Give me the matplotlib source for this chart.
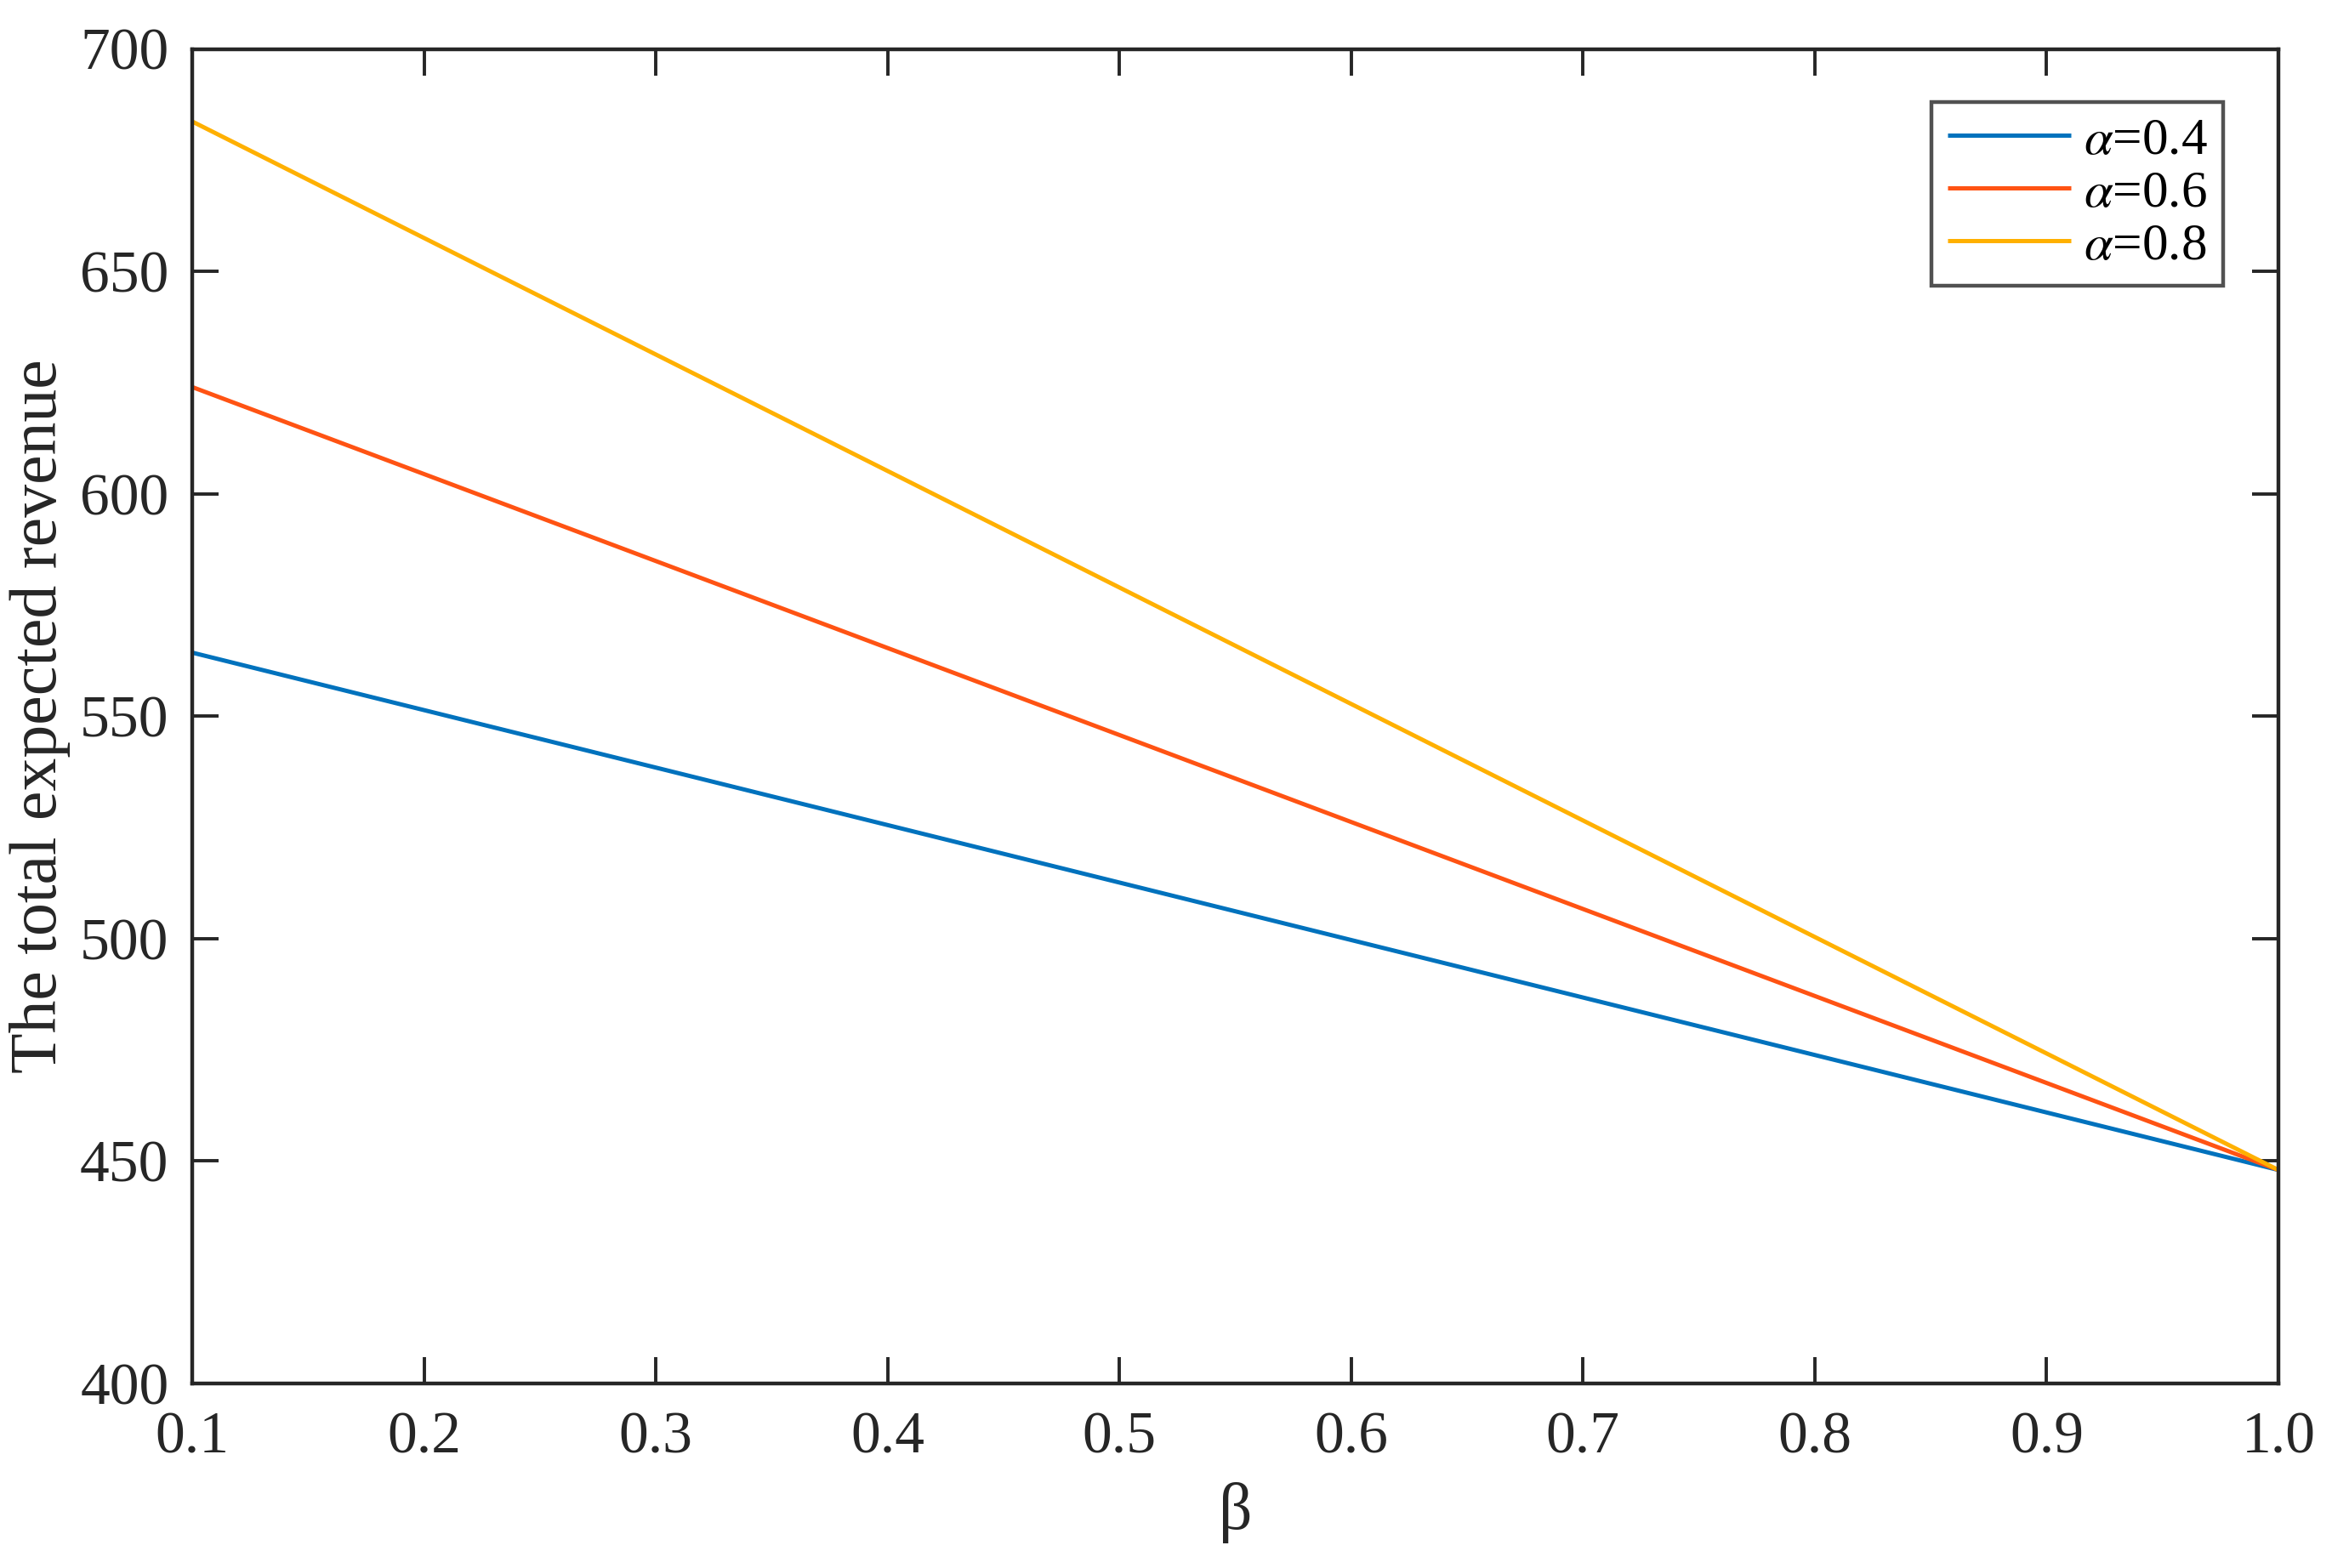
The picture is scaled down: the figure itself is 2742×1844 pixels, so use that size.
import matplotlib
matplotlib.use("Agg")
import matplotlib.pyplot as plt
from matplotlib.ticker import FormatStrFormatter

beta = [0.1, 1.0]
rev_a04 = [564.3, 448.0]
rev_a06 = [624.0, 448.0]
rev_a08 = [683.7, 448.0]
labels = [r"$\alpha$=0.4", r"$\alpha$=0.6", r"$\alpha$=0.8"]
colors = ["#0072BD", "#FF5313", "#FFB000"]
xticks = [0.1, 0.2, 0.3, 0.4, 0.5, 0.6, 0.7, 0.8, 0.9, 1.0]
yticks = [400, 450, 500, 550, 600, 650, 700]

plt.rcParams["font.family"] = ["Liberation Serif", "DejaVu Serif"]
plt.rcParams["mathtext.fontset"] = "stix"

fig = plt.figure(figsize=(13.71, 9.22), dpi=200)
ax = fig.add_axes([0.0825, 0.1177, 0.8945, 0.851])
axc = "#262626"
for y, lab, c in zip([rev_a04, rev_a06, rev_a08], labels, colors):
    ax.plot(beta, y, color=c, lw=1.8, label=lab, solid_capstyle="butt")

ax.set_xlim(0.1, 1.0)
ax.set_ylim(400, 700)
ax.set_xticks(xticks)
ax.set_yticks(yticks)
ax.xaxis.set_major_formatter(FormatStrFormatter("%.1f"))
ax.tick_params(direction="in", length=11, width=1.4, colors=axc, labelsize=25,
               top=True, right=True, pad=10)
ax.tick_params(axis="x", pad=12)
for s in ax.spines.values():
    s.set_linewidth(1.6)
    s.set_color(axc)
ax.set_xlabel("β", fontsize=28, color=axc, va="center")
ax.xaxis.set_label_coords(0.5, -0.097)
ax.set_ylabel("The total expected revenue", fontsize=28, color=axc, va="center")
ax.yaxis.set_label_coords(-0.073, 0.5)

leg = ax.legend(loc="upper right", bbox_to_anchor=(0.9735, 0.9605), fontsize=22,
                frameon=True, fancybox=False, edgecolor=axc, handlelength=2.37,
                handletextpad=0.25, borderpad=0.3, labelspacing=0.1,
                borderaxespad=0)
leg.get_frame().set_linewidth(1.6)
for t in leg.get_texts():
    t.set_color("black")

fig.savefig("out.png", dpi=200, facecolor="white")
